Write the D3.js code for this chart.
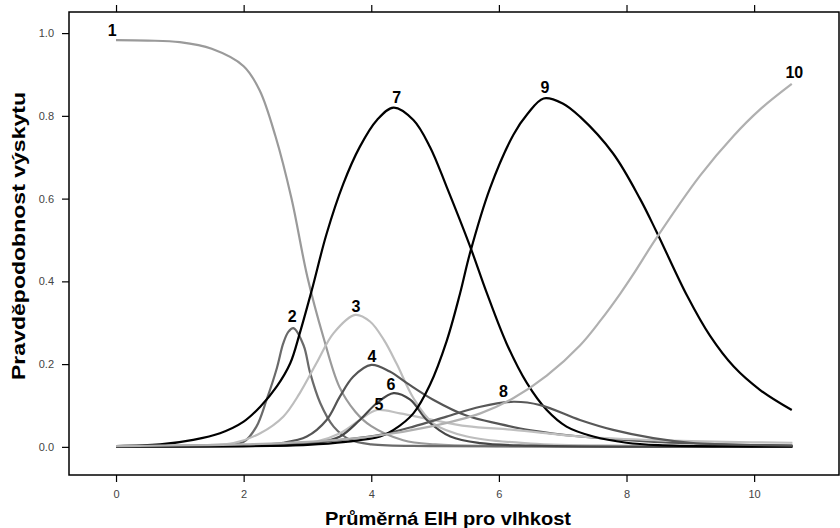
<!DOCTYPE html>
<html>
<head>
<meta charset="utf-8">
<script src="https://cdn.jsdelivr.net/npm/d3@7"></script>
<style>
  body { margin: 0; background: #fff; }
  svg text { font-family: "Liberation Sans", Arial, sans-serif; }
</style>
</head>
<body>
<div id="chart"></div>
<script>
// values (x = EIH, y = probability)
const names = ["1", "2", "3", "4", "5", "6", "7", "8", "9", "10"];

const x1 = [0, 0.5, 1, 1.5, 2, 2.25, 2.5, 2.75, 3, 3.25, 3.5, 3.75, 4, 4.5, 5, 6, 8, 10.6];
const y1 = [0.983, 0.982, 0.978, 0.962, 0.92, 0.862, 0.75, 0.6, 0.41, 0.265, 0.145, 0.085, 0.05, 0.016, 0.006, 0.002, 0.001, 0.001];

const x2 = [0, 1, 1.5, 1.8, 2.0, 2.2, 2.36, 2.52, 2.62, 2.7, 2.78, 2.94, 3.04, 3.2, 3.41, 3.67, 4, 5, 10.6];
const y2 = [0.001, 0.002, 0.004, 0.006, 0.012, 0.049, 0.114, 0.19, 0.25, 0.278, 0.287, 0.245, 0.18, 0.106, 0.049, 0.017, 0.006, 0.002, 0.001];

const x3 = [0, 1, 1.5, 1.84, 2.26, 2.62, 2.88, 3.14, 3.41, 3.75, 3.98, 4.2, 4.4, 4.66, 4.97, 5.5, 6.5, 8, 10.6];
const y3 = [0.001, 0.003, 0.005, 0.009, 0.033, 0.073, 0.13, 0.202, 0.275, 0.319, 0.303, 0.258, 0.2, 0.118, 0.057, 0.025, 0.008, 0.003, 0.002];

const x4 = [0, 2, 2.62, 2.99, 3.3, 3.51, 3.72, 4.0, 4.29, 4.56, 4.97, 5.5, 6.02, 6.5, 7.27, 8.32, 9.5, 10.6];
const y4 = [0.001, 0.004, 0.01, 0.025, 0.065, 0.122, 0.17, 0.198, 0.182, 0.154, 0.114, 0.075, 0.055, 0.04, 0.025, 0.013, 0.006, 0.003];

const x5 = [0, 2.5, 3.14, 3.51, 3.82, 4.09, 4.45, 4.97, 5.5, 6.23, 7.27, 8.32, 9.57, 10.6];
const y5 = [0.001, 0.005, 0.013, 0.033, 0.065, 0.089, 0.081, 0.065, 0.05, 0.041, 0.025, 0.017, 0.012, 0.01];

const x6 = [0, 2.5, 3.14, 3.51, 3.82, 4.09, 4.35, 4.61, 4.87, 5.24, 5.71, 6.5, 10.6];
const y6 = [0.001, 0.003, 0.009, 0.025, 0.065, 0.106, 0.13, 0.114, 0.065, 0.025, 0.009, 0.003, 0.001];

const x7 = [0, 0.69, 1.21, 1.63, 2.0, 2.26, 2.52, 2.73, 2.88, 3.07, 3.30, 3.56, 3.82, 4.09, 4.35, 4.66, 4.92, 5.18, 5.55, 5.81, 6.12, 6.44, 6.75, 7.06, 7.48, 8, 8.5, 9.5, 10.6];
const y7 = [0.002, 0.006, 0.017, 0.033, 0.061, 0.097, 0.146, 0.202, 0.275, 0.38, 0.515, 0.635, 0.725, 0.79, 0.82, 0.79, 0.725, 0.629, 0.484, 0.372, 0.25, 0.154, 0.089, 0.049, 0.025, 0.01, 0.004, 0.001, 0.0005];

const x8 = [0, 2, 3, 3.6, 4.14, 4.66, 5.18, 5.71, 6.23, 6.65, 7.27, 7.79, 8.42, 9, 10.6];
const y8 = [0.001, 0.004, 0.01, 0.018, 0.029, 0.049, 0.073, 0.097, 0.109, 0.101, 0.065, 0.041, 0.021, 0.01, 0.003];

const x9 = [0, 2, 3, 3.6, 4.14, 4.35, 4.66, 4.92, 5.18, 5.39, 5.55, 5.86, 6.23, 6.45, 6.70, 7.0, 7.27, 7.79, 8.21, 8.47, 8.95, 9.31, 9.68, 10.09, 10.59];
const y9 = [0.001, 0.002, 0.005, 0.012, 0.025, 0.041, 0.081, 0.15, 0.255, 0.37, 0.47, 0.625, 0.755, 0.805, 0.842, 0.83, 0.798, 0.709, 0.60, 0.52, 0.365, 0.268, 0.194, 0.138, 0.089];

const x10 = [0, 2, 3, 4, 4.92, 5.71, 6.23, 6.75, 7.27, 7.59, 7.9, 8.11, 8.47, 9.15, 9.68, 10.09, 10.59];
const y10 = [0.002, 0.006, 0.012, 0.025, 0.049, 0.081, 0.118, 0.172, 0.245, 0.305, 0.37, 0.418, 0.505, 0.655, 0.752, 0.815, 0.877];

// where each curve number sits (data units)
const labelX = [-0.06, 2.76, 3.76, 4.01, 4.12, 4.31, 4.40, 6.07, 6.72, 10.63];
const labelY = [1.007, 0.316, 0.341, 0.22, 0.104, 0.152, 0.845, 0.135, 0.870, 0.906];

const xTicks = [0, 2, 4, 6, 8, 10];
const yTicks = [0, 0.2, 0.4, 0.6, 0.8, 1.0];

const colors = ["#9a9a9a", "#6a6a6a", "#bdbdbd", "#555555", "#c0c0c0", "#474747", "#000000", "#585858", "#000000", "#b0b0b0"];

const xs = [x1, x2, x3, x4, x5, x6, x7, x8, x9, x10];
const ys = [y1, y2, y3, y4, y5, y6, y7, y8, y9, y10];

const width = 840, height = 528;
const margin = { top: 12, right: 1, bottom: 53, left: 69 };
const innerW = width - margin.left - margin.right;
const innerH = height - margin.top - margin.bottom;

const x = d3.scaleLinear().domain([-0.737, 11.33]).range([0, innerW]);
const y = d3.scaleLinear().domain([-0.068, 1.051]).range([innerH, 0]);

const svg = d3.select("#chart").append("svg")
  .attr("width", width)
  .attr("height", height);

const g = svg.append("g")
  .attr("transform", "translate(" + margin.left + "," + margin.top + ")");

// axes
const xAxis = g.append("g")
  .attr("transform", "translate(0," + innerH + ")")
  .call(d3.axisBottom(x).tickValues(xTicks).tickFormat(d3.format("d")).tickSize(7).tickPadding(8));

const xTop = g.append("g")
  .call(d3.axisTop(x).tickValues(xTicks).tickSize(7).tickFormat(""));

const yAxis = g.append("g")
  .call(d3.axisLeft(y).tickValues(yTicks).tickFormat(d3.format(".1f")).tickSize(7).tickPadding(8));

[xAxis, xTop, yAxis].forEach(function (a) {
  a.select(".domain").remove();
  a.selectAll("line").attr("stroke", "#000").attr("stroke-width", 1.2);
  a.selectAll("text").attr("fill", "#444").style("font-size", "11px");
});

// frame
g.append("rect")
  .attr("width", innerW)
  .attr("height", innerH)
  .attr("fill", "none")
  .attr("stroke", "#000")
  .attr("stroke-width", 1.5);

const line = d3.line()
  .x(function (d) { return x(d[0]); })
  .y(function (d) { return y(d[1]); })
  .curve(d3.curveCatmullRom.alpha(0.5));

names.forEach(function (n, i) {
  const pts = xs[i].map(function (v, j) { return [v, ys[i][j]]; });
  g.append("path")
    .attr("d", line(pts))
    .attr("fill", "none")
    .attr("stroke", colors[i])
    .attr("stroke-width", 2.2);
});

g.selectAll(".lab")
  .data(names)
  .enter().append("text")
  .attr("class", "lab")
  .attr("x", function (d, i) { return x(labelX[i]); })
  .attr("y", function (d, i) { return y(labelY[i]); })
  .attr("dy", "0.36em")
  .attr("text-anchor", "middle")
  .style("font-size", "16px")
  .style("font-weight", "bold")
  .text(function (d) { return d; });

// axis titles
svg.append("text")
  .attr("x", 448)
  .attr("y", 525)
  .attr("text-anchor", "middle")
  .attr("textLength", 246)
  .attr("lengthAdjust", "spacingAndGlyphs")
  .style("font-size", "18px")
  .style("font-weight", "bold")
  .text("Průměrná EIH pro vlhkost");

svg.append("text")
  .attr("transform", "translate(25,236) rotate(-90)")
  .attr("text-anchor", "middle")
  .attr("textLength", 288)
  .attr("lengthAdjust", "spacingAndGlyphs")
  .style("font-size", "19px")
  .style("font-weight", "bold")
  .text("Pravděpodobnost výskytu");
</script>
</body>
</html>
